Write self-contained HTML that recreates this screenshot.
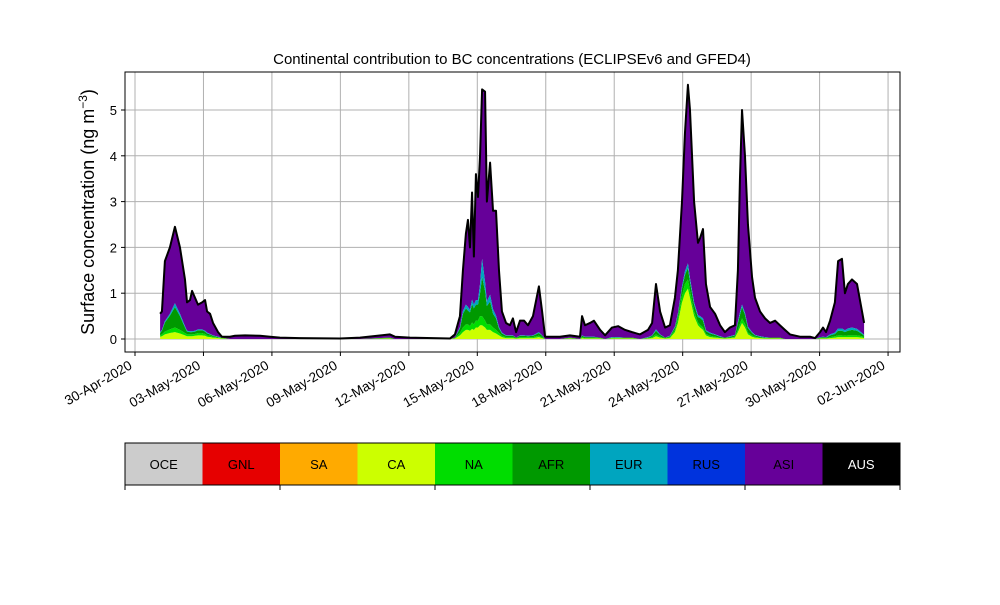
<!DOCTYPE html>
<html><head><meta charset="utf-8"><style>
body{margin:0;background:#fff}
svg text{font-family:"Liberation Sans","DejaVu Sans",sans-serif}
</style></head><body>
<svg id="c" width="1000" height="600" xmlns="http://www.w3.org/2000/svg"></svg>
<script>
const days=[1.10,1.18,1.31,1.53,1.75,1.97,2.19,2.28,2.41,2.50,2.63,2.76,2.94,3.07,3.16,3.29,3.42,3.64,3.81,4.16,4.38,4.82,5.48,5.92,6.35,7.23,8.98,9.86,11.17,11.39,12.05,13.80,14.02,
14.24,14.37,14.50,14.59,14.68,14.77,14.85,14.94,15.03,15.12,15.21,15.34,15.42,15.56,15.69,15.82,15.95,16.08,16.26,16.43,16.56,16.70,16.87,17.05,17.22,17.44,17.70,17.84,17.97,18.62,19.06,19.50,19.59,19.72,19.94,20.11,20.38,20.60,20.90,21.17,21.47,21.78,22.13,22.48,22.66,22.83,23.01,23.23,23.44,
23.66,23.79,23.97,24.10,24.23,24.32,24.50,24.67,24.76,24.89,25.02,25.20,25.42,25.64,25.85,26.07,26.29,
26.42,26.51,26.60,26.73,26.86,27.04,27.17,27.39,27.61,27.83,28.05,28.26,28.48,28.70,29.14,29.58,29.80,30.02,30.15,30.28,30.46,
30.67,30.81,30.98,31.11,31.24,31.42,31.64,31.86,31.95];
const total=[.55,.6,1.7,2.0,2.45,2.0,1.3,.8,.85,1.05,.9,.75,.8,.85,.6,.55,.35,.15,.05,.05,.07,.08,.07,.05,.03,.02,.01,.03,.1,.05,.03,.01,.1,
.5,1.5,2.3,2.6,2.0,3.2,1.8,3.6,3.1,4.0,5.45,5.4,3.0,3.85,2.8,2.8,1.5,.6,.35,.3,.45,.15,.4,.4,.3,.5,1.15,.6,.05,.05,.08,.05,.5,.3,.35,.4,.2,.08,.25,.28,.2,.15,.1,.2,.35,1.2,.6,.25,.3,
.9,1.5,3.0,4.5,5.55,5.0,3.0,2.1,2.2,2.4,1.2,.7,.55,.3,.15,.25,.3,
1.5,3.5,5.0,4.0,2.5,1.35,.9,.6,.45,.35,.4,.3,.2,.1,.05,.05,.02,.15,.25,.15,.4,
.8,1.7,1.75,1.0,1.2,1.3,1.2,.6,.35];
const ca=[.05,.06,.1,.13,.15,.12,.08,.06,.06,.06,.07,.08,.08,.07,.05,.04,.03,.02,.01,0,0,0,0,0,0,0,0,0,.01,0,0,0,.01,
.08,.15,.2,.2,.18,.22,.2,.25,.25,.3,.3,.25,.2,.2,.15,.12,.08,.04,.02,.02,.02,.01,.02,.02,.02,.02,.04,.02,0,0,.01,0,.02,.01,.01,.01,.01,0,.01,.01,.01,.01,0,.01,.02,.06,.03,.01,.02,
.15,.35,.8,1.0,1.1,.9,.5,.3,.25,.2,.08,.04,.03,.02,.01,.02,.03,
.15,.25,.35,.25,.1,.05,.03,.02,.01,.01,.01,.01,0,0,0,0,0,.01,.01,.01,.02,
.03,.04,.04,.04,.04,.04,.04,.03,.02];
const na=[.03,.04,.06,.08,.1,.08,.05,.04,.04,.04,.04,.05,.05,.04,.03,.03,.02,.01,.01,0,0,0,0,0,0,0,0,0,.01,0,0,0,.01,
.05,.1,.12,.12,.1,.14,.12,.15,.15,.2,.2,.15,.12,.12,.1,.08,.05,.03,.02,.02,.02,.01,.02,.02,.02,.02,.03,.02,0,0,.01,0,.02,.01,.01,.01,.01,0,.01,.01,.01,.01,0,.01,.02,.04,.02,.01,.02,
.05,.1,.15,.2,.2,.15,.1,.06,.06,.05,.03,.03,.02,.01,.01,.01,.02,
.05,.08,.1,.08,.04,.03,.02,.01,.01,.01,.01,.01,0,0,0,0,0,.01,.01,.01,.02,
.03,.04,.04,.03,.04,.04,.04,.03,.02];
const afr=[.05,.08,.2,.3,.45,.3,.12,.06,.05,.05,.05,.06,.06,.05,.04,.03,.02,.01,.01,0,0,0,0,0,0,0,0,0,.01,0,0,0,.01,
.1,.3,.35,.3,.3,.4,.35,.35,.35,.5,.85,.65,.4,.5,.3,.25,.1,.05,.03,.03,.03,.01,.03,.03,.02,.03,.06,.03,0,0,.01,0,.03,.02,.02,.02,.01,0,.01,.01,.01,.01,0,.01,.03,.08,.04,.01,.02,
.05,.08,.15,.2,.25,.2,.15,.12,.15,.15,.06,.05,.04,.02,.01,.02,.03,
.15,.2,.25,.2,.1,.05,.03,.02,.01,.01,.01,.01,0,0,0,0,0,.01,.02,.01,.04,
.05,.1,.1,.08,.1,.12,.1,.05,.03];
const eur=[.02,.02,.03,.04,.08,.05,.03,.02,.02,.02,.02,.02,.02,.02,.02,.01,.01,.01,0,0,0,0,0,0,0,0,0,0,0,0,0,0,0,
.03,.06,.08,.08,.06,.1,.08,.1,.1,.2,.4,.2,.1,.15,.1,.06,.03,.02,.01,.01,.01,0,.01,.01,.01,.01,.02,.01,0,0,0,0,.01,.01,.01,.01,0,0,.01,.01,0,0,0,.01,.01,.03,.01,0,.01,
.02,.03,.05,.08,.1,.08,.05,.04,.04,.05,.02,.02,.01,.01,0,.01,.01,
.03,.05,.05,.04,.03,.02,.01,.01,.01,0,0,0,0,0,0,0,0,.01,.01,.01,.02,
.03,.05,.05,.04,.05,.05,.04,.02,.02];
const yTicks=[0,1,2,3,4,5];
const xTickDays=[0,3,6,9,12,15,18,21,24,27,30,33];
const xTickLabels=["30-Apr-2020","03-May-2020","06-May-2020","09-May-2020","12-May-2020","15-May-2020","18-May-2020","21-May-2020","24-May-2020","27-May-2020","30-May-2020","02-Jun-2020"];
const regions=["OCE","GNL","SA","CA","NA","AFR","EUR","RUS","ASI","AUS"];
const regionColors=["#cccccc","#e60000","#ffaa00","#ccff00","#00dd00","#009900","#00a5bf","#0033dd","#660099","#000000"];

const NS="http://www.w3.org/2000/svg",svg=document.getElementById('c');
function mk(t,a,p){const e=document.createElementNS(NS,t);for(const k in a)e.setAttribute(k,a[k]);(p||svg).appendChild(e);return e;}
const L=125,R=900,T=72,B=352;
const X=d=>135+d*22.82, Y=v=>339-v*45.8;
xTickDays.forEach(d=>{const l=mk('line',{x1:X(d),x2:X(d),y1:T,y2:B,stroke:'#b0b0b0','stroke-width':1});

});
yTicks.forEach(v=>{const l=mk('line',{x1:L,x2:R,y1:Y(v),y2:Y(v),stroke:'#b0b0b0','stroke-width':1});

});
const comps=[ca,na,afr,eur];
const compColors=[regionColors[3],regionColors[4],regionColors[5],regionColors[6]];
function area(lo,hi,color,name){let d='M'+days.map((t,i)=>X(t)+','+Y(hi[i])).join('L');
for(let i=days.length-1;i>=0;i--)d+='L'+X(days[i])+','+Y(lo[i]);
const p=mk('path',{d:d+'Z',fill:color});

}
let cum=days.map(()=>0);
const layers=[];
comps.forEach((c,k)=>{const lo=cum.slice();cum=cum.map((v,i)=>v+c[i]);layers.push([lo,cum.slice(),compColors[k],regions[k+3].toLowerCase()+'-area']);});
area(cum,total,regionColors[8],'asi-area');
layers.forEach(l=>area(l[0],l[1],l[2],l[3]));
const ln=mk('path',{d:'M'+days.map((t,i)=>X(t)+','+Y(total[i])).join('L'),fill:'none',stroke:'#000','stroke-width':2,'stroke-linejoin':'round'});


const fr=mk('rect',{x:L,y:T,width:R-L,height:B-T,fill:'none',stroke:'#000','stroke-width':1});


yTicks.forEach(v=>{mk('line',{x1:L-4,x2:L,y1:Y(v),y2:Y(v),stroke:'#000'});
const t=mk('text',{x:L-8,y:Y(v)+5,'text-anchor':'end','font-size':13});t.textContent=v;

});
xTickDays.forEach((d,i)=>{mk('line',{x1:X(d),x2:X(d),y1:B,y2:B+4,stroke:'#000'});
const ax=X(d)-2, ay=B+16;
const t=mk('text',{x:ax,y:ay,'text-anchor':'end','font-size':13.5,transform:`rotate(-30 ${ax} ${ay})`});t.textContent=xTickLabels[i];

});
const tt=mk('text',{x:512,y:64,'text-anchor':'middle','font-size':15});tt.textContent='Continental contribution to BC concentrations (ECLIPSEv6 and GFED4)';


const yl=mk('text',{x:94,y:212,'text-anchor':'middle','font-size':18,transform:'rotate(-90 94 212)'});
yl.innerHTML='Surface concentration (ng m<tspan dy="-7" font-size="12">−3</tspan><tspan dy="7">)</tspan>';


const w=(R-L)/regions.length;
regions.forEach((r,i)=>{const g=mk('g',{});


mk('rect',{x:L+i*w,y:443,width:w,height:42,fill:regionColors[i]},g);
const t=mk('text',{x:L+i*w+w/2,y:469,'text-anchor':'middle','font-size':13,fill:r==='AUS'?'#fff':'#000'},g);t.textContent=r;});
const cb=mk('rect',{x:L,y:443,width:R-L,height:42,fill:'none',stroke:'#000'});


for(let i=0;i<=regions.length;i+=2)mk('line',{x1:L+i*w,x2:L+i*w,y1:485,y2:490,stroke:'#000'});
</script>
</body></html>
